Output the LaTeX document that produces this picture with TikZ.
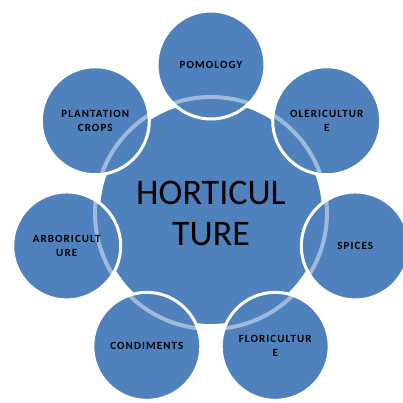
\documentclass[tikz,border=0pt]{standalone}
\usepackage{fontspec}
\setmainfont{Carlito}
\definecolor{hortblue}{HTML}{4F81BD}
\tikzset{
  hub/.style={circle, fill=hortblue, minimum size=222pt, inner sep=0pt},
  petal/.style={circle, fill=hortblue, draw=white, line width=3pt, minimum size=108pt, inner sep=0pt},
  petaltext/.style={align=center, inner sep=0pt, font=\bfseries\addfontfeatures{LetterSpace=10}\fontsize{11}{14}\selectfont},
  hubtext/.style={align=center, inner sep=0pt, font=\fontsize{36}{41}\selectfont}
}
\begin{document}
\begin{tikzpicture}[x=1pt,y=1pt]
    \useasboundingbox (-211,-189) rectangle (192,213);

    % centre and the seven circles round it
    \node[hub] (hub) at (0,0) {};
    \foreach \ang/\nm in {90/pom, 38.57/ole, -12.86/spi, -64.29/flo, -115.71/con, 192.86/arb, 141.43/pla}
        \node[petal] (\nm) at (\ang:148) {};

    % light ring over the circles
    \draw[white, opacity=0.45, line width=4pt] (hub.center) circle (116);

    \node[hubtext] (hubtxt) at (hub.center) {HORTICUL\\TURE};
    \node[petaltext] (pomtxt) at (pom) {POMOLOGY};
    \node[petaltext] (oletxt) at (ole) {OLERICULTUR\\E};
    \node[petaltext] (spitxt) at (spi) {SPICES};
    \node[petaltext] (flotxt) at (flo) {FLORICULTUR\\E};
    \node[petaltext] (contxt) at (con) {CONDIMENTS};
    \node[petaltext] (arbtxt) at (arb) {ARBORICULT\\URE};
    \node[petaltext] (platxt) at (pla) {PLANTATION\\CROPS};

\end{tikzpicture}
\end{document}
